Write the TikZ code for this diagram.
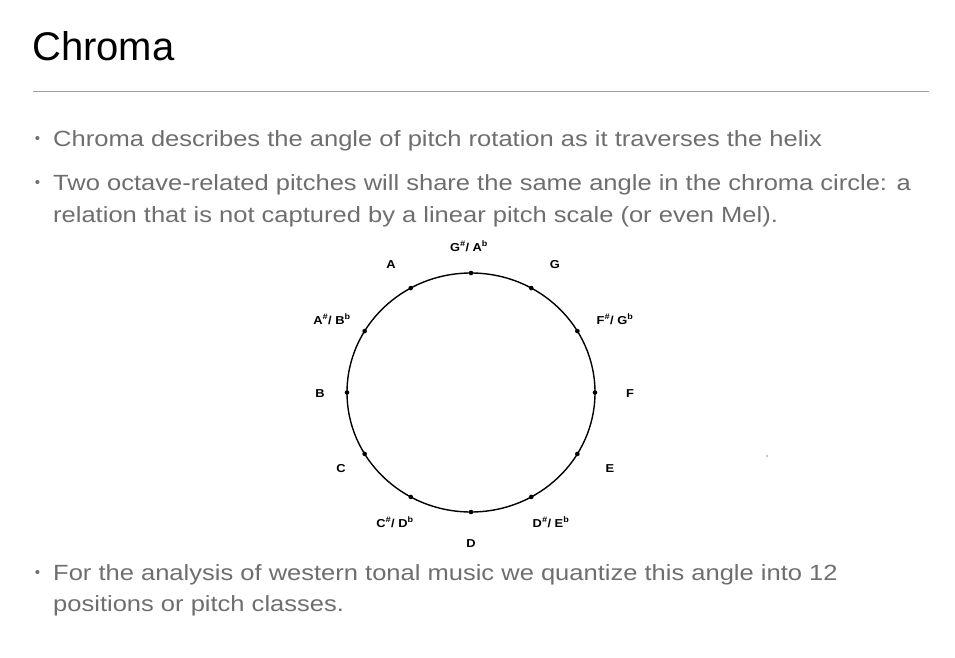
\documentclass[tikz,border=0pt]{standalone}
\usepackage{fontspec}
\setmainfont{Liberation Sans}
\newfontfamily\bodyfont[FakeStretch=1.16]{Liberation Sans}
\newfontfamily\labfont[FakeStretch=1.12]{Liberation Sans}
\usetikzlibrary{shapes.geometric}
\definecolor{bodygray}{HTML}{6E6E6E}
\definecolor{rulegray}{HTML}{A0A0A0}
\tikzset{
  bodytext/.style={anchor=base west, inner sep=0pt, text=bodygray, font=\bodyfont\fontsize{22}{26}\selectfont},
  bulletmark/.style={anchor=center, inner sep=0pt, text=bodygray, font=\fontsize{15}{15}\selectfont},
  notelab/.style={anchor=base, inner sep=0pt, text=black, font=\labfont\bfseries\fontsize{11.5}{13}\selectfont},
  notedot/.style={circle, fill=black, inner sep=0pt, minimum size=4.6pt},
}
\newcommand{\sh}{\textsuperscript{\itshape\#}}
\newcommand{\fl}{\textsuperscript{b}}
\begin{document}
\begin{tikzpicture}[x=1pt,y=-1pt]
\useasboundingbox (0,0) rectangle (955,658);
% title
\node[anchor=base west, inner sep=0pt, font=\fontsize{40}{44}\selectfont] (title) at (32,60.5) {Chroma};
\coordinate (rl) at (33,91);
\coordinate (rr) at (929,91);
\draw[rulegray, line width=0.9pt] (rl) -- (rr);
% bullets
\node[bulletmark] (b1) at (37.5,140) {•};
\node[bodytext] (t1) at (53,146.5) {Chroma describes the angle of pitch rotation as it traverses the helix};
\node[bulletmark] (b2) at (37.5,183.5) {•};
\node[bodytext] (t2a) at (53,190) {Two octave-related pitches will share the same angle in the chroma circle: a};
\node[bodytext] (t2b) at (53,222) {relation that is not captured by a linear pitch scale (or even Mel).};
\node[bulletmark] (b3) at (37.5,573.5) {•};
\node[bodytext] (t3a) at (53,580) {For the analysis of western tonal music we quantize this angle into 12};
\node[bodytext] (t3b) at (53,611) {positions or pitch classes.};
% chroma circle
\node[draw, ellipse, line width=1.4pt, inner sep=0pt, outer sep=0pt, minimum width=248pt, minimum height=239pt] (ring) at (471,392.5) {};
\foreach \a in {0,30,...,330} {
  \node[notedot] (d\a) at (ring.\a) {};
}
% labels
\node[notelab] (lGs) at (469,251) {G\sh/ A\fl};
\node[notelab] (lA) at (391,268) {A};
\node[notelab] (lG) at (555,268) {G};
\node[notelab] (lAs) at (332,324) {A\sh/ B\fl};
\node[notelab] (lFs) at (615,324) {F\sh/ G\fl};
\node[notelab] (lB) at (320,397.5) {B};
\node[notelab] (lF) at (630,397.5) {F};
\node[notelab] (lC) at (341,472) {C};
\node[notelab] (lE) at (610,472) {E};
\node[notelab] (lCs) at (395,527) {C\sh/ D\fl};
\node[notelab] (lDs) at (551,527) {D\sh/ E\fl};
\node[notelab] (lD) at (471,547) {D};
% stray speck
\fill[black] (767,456) circle (0.6pt);
\end{tikzpicture}
\end{document}
